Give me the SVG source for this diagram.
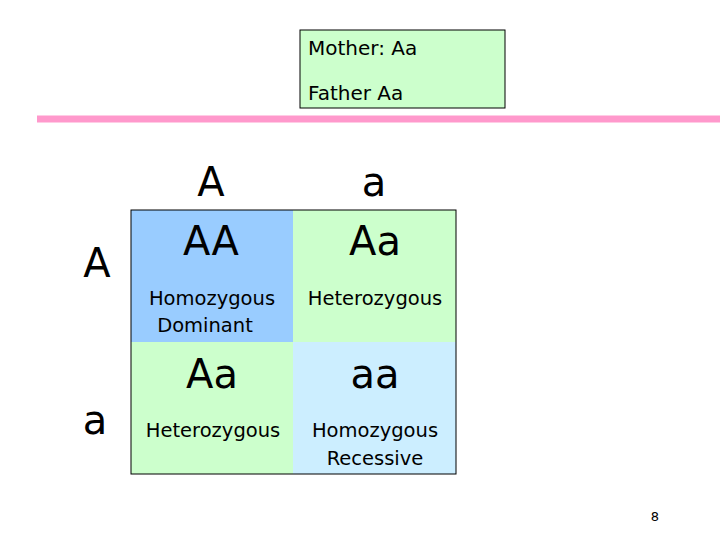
<svg xmlns="http://www.w3.org/2000/svg" width="720" height="540" viewBox="0 0 720 540">
<style>
text{font-family:"DejaVu Sans","Liberation Sans",sans-serif;fill:#000}
.big{font-size:40px;text-anchor:middle}
.lbl{font-size:19.5px;text-anchor:middle}
.cell{stroke:#000;stroke-width:1}
</style>
<rect width="720" height="540" fill="#fff"/>
<g id="info">
<rect x="300" y="30" width="205" height="78" fill="#ccffcc" stroke="#000"/>
<text x="308" y="55" font-size="20">Mother: Aa</text>
<text x="308" y="100" font-size="20">Father Aa</text>
</g>
<line x1="37" y1="119" x2="720" y2="119" stroke="#ff99cc" stroke-width="7"/>
<g id="headers">
<text class="big" x="211" y="196">A</text>
<text class="big" x="374" y="196">a</text>
<text class="big" x="97" y="277">A</text>
<text class="big" x="95" y="434">a</text>
</g>
<g id="cell-AA">
<rect x="131" y="210" width="162" height="132" fill="#99ccff"/>
<text class="big" x="211" y="255">AA</text>
<text class="lbl" x="212" y="305">Homozygous</text>
<text class="lbl" x="205" y="332">Dominant</text>
</g>
<g id="cell-Aa1">
<rect x="293" y="210" width="163" height="132" fill="#ccffcc"/>
<text class="big" x="375" y="255">Aa</text>
<text class="lbl" x="375" y="305">Heterozygous</text>
</g>
<g id="cell-Aa2">
<rect x="131" y="342" width="162" height="132" fill="#ccffcc"/>
<text class="big" x="212" y="388">Aa</text>
<text class="lbl" x="213" y="437">Heterozygous</text>
</g>
<g id="cell-aa">
<rect x="293" y="342" width="163" height="132" fill="#cceeff"/>
<text class="big" x="375" y="388">aa</text>
<text class="lbl" x="375" y="437">Homozygous</text>
<text class="lbl" x="375" y="465">Recessive</text>
</g>
<rect x="131" y="210" width="325" height="264" fill="none" stroke="#000"/>
<text x="655" y="521" font-size="13" text-anchor="middle">8</text>
</svg>
